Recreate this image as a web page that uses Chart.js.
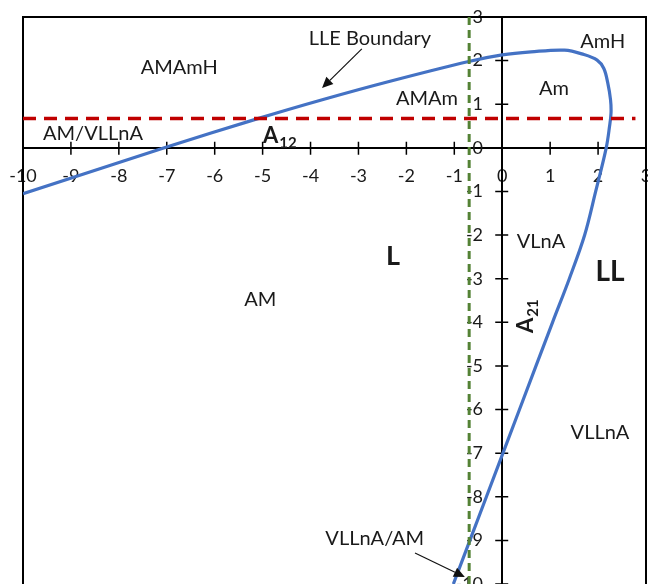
<!DOCTYPE html>
<html>
<head>
<meta charset="utf-8">
<script src="https://cdn.jsdelivr.net/npm/chart.js@4.4.1/dist/chart.umd.min.js"></script>
<style>
  html, body { margin: 0; padding: 0; background: #fff; }
  #wrap { width: 648px; height: 584px; }
</style>
</head>
<body>
<div id="wrap"><canvas id="chart"></canvas></div>
<script>
// axis values
const axisMin = -10;
const axisMax = 3;
const tickValues = [-10, -9, -8, -7, -6, -5, -4, -3, -2, -1, 0, 1, 2, 3];

// LLE boundary curve
const boundaryX = [-10, -7.05, -5.1, -3.7, -2.4, -0.7, 0, 0.6, 1.3, 1.7, 1.98, 2.12, 2.2, 2.26, 2.27, 2.24, 2.17, 1.95, 1.72, 1.4, 1.05, 0.36, -0.33, -1.02];
const boundaryY = [-1.05, 0, 0.67, 1.12, 1.51, 1.98, 2.13, 2.2, 2.24, 2.14, 2.01, 1.82, 1.5, 1.1, 0.8, 0.5, 0, -1, -2, -3, -4, -6, -8, -10];

// A12 (horizontal, red) and A21 (vertical, green) reference lines
const a12Value = 0.67;
const a12Span = [-10, 2.78];
const a21Value = -0.69;
const a21Span = [3, -10];

const textColor = '#1a1a1a';

// region names placed in data coordinates
const regionNotes = [
  { text: 'LLE Boundary', x: -2.76, y: 2.5 },
  { text: 'AMAmH', x: -6.74, y: 1.83 },
  { text: 'AM/VLLnA', x: -8.54, y: 0.32 },
  { text: 'AMAm', x: -1.57, y: 1.12 },
  { text: 'Am', x: 1.08, y: 1.37 },
  { text: 'AmH', x: 2.1, y: 2.43 },
  { text: 'AM', x: -5.05, y: -3.47 },
  { text: 'VLnA', x: 0.81, y: -2.14 },
  { text: 'VLLnA', x: 2.04, y: -6.52 },
  { text: 'VLLnA/AM', x: -2.66, y: -8.95 },
  { text: 'L', x: -2.28, y: -2.48, bold: true, size: 27 },
  { text: 'LL', x: 2.25, y: -2.85, bold: true, size: 28 }
];
const arrows = [
  { from: [-2.93, 2.27], to: [-3.76, 1.37] },
  { from: [-1.82, -9.29], to: [-0.78, -9.84] }
];
const subscriptNotes = [
  { main: 'A', sub: '12', x: -4.64, y: 0.3, angle: 0 },
  { main: 'A', sub: '21', x: 0.47, y: -3.86, angle: -Math.PI / 2 }
];

Chart.defaults.font.family = 'Lato';

const toPoints = (xs, ys) => xs.map((v, i) => ({ x: v, y: ys[i] }));

// centred axes must not push the plot area in
const zeroPadding = (scale) => {
  scale.paddingLeft = 0; scale.paddingRight = 0;
  scale.paddingTop = 0; scale.paddingBottom = 0;
};

function drawArrow(ctx, x1, y1, x2, y2) {
  const ang = Math.atan2(y2 - y1, x2 - x1);
  const len = 11, half = 5;
  const bx = x2 - len * Math.cos(ang), by = y2 - len * Math.sin(ang);
  ctx.beginPath();
  ctx.moveTo(x1, y1);
  ctx.lineTo(bx, by);
  ctx.stroke();
  ctx.beginPath();
  ctx.moveTo(x2, y2);
  ctx.lineTo(bx + half * Math.sin(ang), by - half * Math.cos(ang));
  ctx.lineTo(bx - half * Math.sin(ang), by + half * Math.cos(ang));
  ctx.closePath();
  ctx.fill();
}

const decorations = {
  id: 'decorations',
  beforeDatasetsDraw(chart) {
    const { ctx, chartArea: a, scales: { x, y } } = chart;
    ctx.save();
    // frame
    ctx.strokeStyle = '#000';
    ctx.lineWidth = 2;
    ctx.strokeRect(a.left, a.top, a.right - a.left, a.bottom - a.top + 4);
    // tick marks crossing both axes
    const x0 = x.getPixelForValue(0), y0 = y.getPixelForValue(0);
    ctx.lineWidth = 1.5;
    ctx.beginPath();
    tickValues.forEach(v => {
      const px = x.getPixelForValue(v), py = y.getPixelForValue(v);
      ctx.moveTo(px, y0 - 6); ctx.lineTo(px, y0 + 7);
      ctx.moveTo(x0 - 7, py); ctx.lineTo(x0 + 6, py);
    });
    ctx.stroke();
    ctx.restore();
  },
  afterDatasetsDraw(chart) {
    const { ctx, scales: { x, y } } = chart;
    ctx.save();
    ctx.fillStyle = textColor;
    ctx.textAlign = 'center';
    ctx.textBaseline = 'middle';
    regionNotes.forEach(n => {
      ctx.font = (n.bold ? 'bold ' : '') + (n.size || 20) + 'px Lato';
      ctx.fillText(n.text, x.getPixelForValue(n.x), y.getPixelForValue(n.y));
    });

    // A12 / A21 with subscripts
    subscriptNotes.forEach(n => {
      ctx.save();
      ctx.translate(x.getPixelForValue(n.x), y.getPixelForValue(n.y));
      ctx.rotate(n.angle);
      ctx.textAlign = 'left';
      ctx.textBaseline = 'alphabetic';
      ctx.font = 'bold 22px Lato';
      const wMain = ctx.measureText(n.main).width;
      ctx.font = 'bold 15px Lato';
      const wSub = ctx.measureText(n.sub).width;
      const left = -(wMain + wSub + 1) / 2;
      ctx.font = 'bold 22px Lato';
      ctx.fillText(n.main, left, 8);
      ctx.font = 'bold 15px Lato';
      ctx.fillText(n.sub, left + wMain + 1, 13);
      ctx.restore();
    });

    ctx.strokeStyle = '#111';
    ctx.fillStyle = '#111';
    ctx.lineWidth = 1.2;
    arrows.forEach(r => {
      drawArrow(ctx,
        x.getPixelForValue(r.from[0]), y.getPixelForValue(r.from[1]),
        x.getPixelForValue(r.to[0]), y.getPixelForValue(r.to[1]));
    });
    ctx.restore();
  }
};

const tickFont = { size: 18 };

new Chart(document.getElementById('chart'), {
  type: 'scatter',
  data: {
    datasets: [
      {
        label: 'A12',
        data: toPoints(a12Span, [a12Value, a12Value]),
        showLine: true,
        borderColor: '#C00000',
        borderWidth: 3.5,
        borderDash: [13, 8],
        pointRadius: 0
      },
      {
        label: 'A21',
        data: toPoints([a21Value, a21Value], a21Span),
        showLine: true,
        borderColor: '#548235',
        borderWidth: 3,
        borderDash: [8, 5],
        pointRadius: 0
      },
      {
        label: 'LLE Boundary',
        data: toPoints(boundaryX, boundaryY),
        showLine: true,
        borderColor: '#4472C4',
        borderWidth: 3.2,
        tension: 0.35,
        pointRadius: 0
      }
    ]
  },
  options: {
    responsive: true,
    maintainAspectRatio: false,
    animation: false,
    layout: { padding: { left: 23, right: 2, top: 17, bottom: 0 } },
    plugins: {
      legend: { display: false },
      tooltip: { enabled: false }
    },
    scales: {
      x: {
        type: 'linear',
        position: { y: 0 },
        min: axisMin,
        max: axisMax,
        afterFit: zeroPadding,
        grid: { display: false },
        border: { display: true, color: '#000', width: 2 },
        ticks: { stepSize: 1, padding: 10, color: textColor, font: tickFont }
      },
      y: {
        type: 'linear',
        position: { x: 0 },
        min: axisMin,
        max: axisMax,
        afterFit: zeroPadding,
        grid: { display: false },
        border: { display: true, color: '#000', width: 2 },
        ticks: { display: false, stepSize: 1 }
      },
      // label-only copy of the y axis, set a little left of x = 0
      yLabels: {
        type: 'linear',
        axis: 'y',
        position: { x: -0.4 },
        min: axisMin,
        max: axisMax,
        afterFit: zeroPadding,
        grid: { display: false },
        border: { display: false },
        ticks: { stepSize: 1, color: textColor, font: tickFont }
      }
    }
  },
  plugins: [decorations]
});
</script>
</body>
</html>
